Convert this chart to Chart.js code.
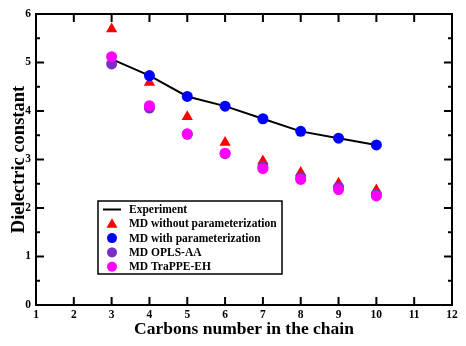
<!DOCTYPE html>
<html>
<head>
<meta charset="utf-8">
<script src="https://cdn.jsdelivr.net/npm/chart.js@4"></script>
<style>
  body { margin: 0; background: #fff; }
  #wrap { width: 466px; height: 346px; }
</style>
</head>
<body>
<div id="wrap"><canvas id="c"></canvas></div>
<script>
// carbons in the chain vs dielectric constant
const carbons = [3, 4, 5, 6, 7, 8, 9, 10];
const experiment = [5.07, 4.73, 4.30, 4.10, 3.84, 3.58, 3.44, 3.30];
const mdWithout = [5.69, 4.59, 3.88, 3.35, 2.97, 2.73, 2.51, 2.37];
const mdWith = [null, 4.73, 4.30, 4.10, 3.84, 3.58, 3.44, 3.30];
const mdOpls = [4.97, 4.06, 3.52, 3.12, 2.85, 2.63, 2.43, 2.28];
const mdTrappe = [5.12, 4.11, 3.53, 3.13, 2.81, 2.59, 2.38, 2.25];

const serif = "'Liberation Serif', 'Times New Roman', serif";

function pts(ys) {
  return carbons.map((c, i) => ({ x: c, y: ys[i] }));
}

// inward ticks on all four sides + frame
const framePlugin = {
  id: "frame",
  afterDraw(chart) {
    const ctx = chart.ctx;
    const a = chart.chartArea;
    const xs = chart.scales.x, ys = chart.scales.y;
    ctx.save();
    ctx.strokeStyle = "#000";
    ctx.lineWidth = 2;
    for (let v = 1; v <= 12; v++) {
      const px = xs.getPixelForValue(v);
      ctx.beginPath();
      ctx.moveTo(px, a.bottom); ctx.lineTo(px, a.bottom - 8);
      ctx.moveTo(px, a.top); ctx.lineTo(px, a.top + 8);
      ctx.stroke();
    }
    for (let v = 0; v <= 6; v += 0.5) {
      const py = ys.getPixelForValue(v);
      const len = Number.isInteger(v) ? 8 : 4;
      ctx.beginPath();
      ctx.moveTo(a.left, py); ctx.lineTo(a.left + len, py);
      ctx.moveTo(a.right, py); ctx.lineTo(a.right - len, py);
      ctx.stroke();
    }
    ctx.strokeRect(a.left, a.top, a.right - a.left, a.bottom - a.top);
    ctx.restore();
  }
};

// boxed legend inside the plot
const legendPlugin = {
  id: "boxLegend",
  afterDraw(chart) {
    const ctx = chart.ctx;
    const x0 = 98, y0 = 201, w = 184, h = 73;
    ctx.save();
    ctx.fillStyle = "#fff";
    ctx.fillRect(x0, y0, w, h);
    ctx.strokeStyle = "#000";
    ctx.lineWidth = 1.5;
    ctx.strokeRect(x0, y0, w, h);
    ctx.font = "bold 11.5px " + serif;
    ctx.textBaseline = "middle";
    chart.data.datasets.forEach((ds, i) => {
      const y = y0 + 8.5 + i * 14.3;
      const sx = 112;
      if (ds.showLine) {
        ctx.strokeStyle = ds.borderColor;
        ctx.lineWidth = 2;
        ctx.beginPath(); ctx.moveTo(103, y); ctx.lineTo(121, y); ctx.stroke();
      } else if (ds.pointStyle === "triangle") {
        ctx.fillStyle = ds.backgroundColor;
        ctx.beginPath();
        ctx.moveTo(sx, y - 5.5); ctx.lineTo(sx + 5.5, y + 4); ctx.lineTo(sx - 5.5, y + 4);
        ctx.closePath(); ctx.fill();
      } else {
        ctx.fillStyle = ds.backgroundColor;
        ctx.beginPath(); ctx.arc(sx, y, 5, 0, Math.PI * 2); ctx.fill();
      }
      ctx.fillStyle = "#000";
      ctx.fillText(ds.label, 129, y + 0.5);
    });
    ctx.restore();
  }
};

new Chart(document.getElementById("c"), {
  type: "scatter",
  data: {
    datasets: [
      {
        label: "Experiment",
        data: pts(experiment),
        showLine: true,
        borderColor: "#000",
        backgroundColor: "#000",
        borderWidth: 2,
        pointRadius: 0,
        order: 5
      },
      {
        label: "MD without parameterization",
        data: pts(mdWithout),
        pointStyle: "triangle",
        backgroundColor: "#ff0000",
        borderColor: "#ff0000",
        borderWidth: 0,
        pointRadius: 6.5,
        order: 4
      },
      {
        label: "MD with parameterization",
        data: pts(mdWith),
        backgroundColor: "#0000ff",
        borderColor: "#0000ff",
        borderWidth: 0,
        pointRadius: 5.5,
        order: 3
      },
      {
        label: "MD OPLS-AA",
        data: pts(mdOpls),
        backgroundColor: "#7b2fc4",
        borderColor: "#7b2fc4",
        borderWidth: 0,
        pointRadius: 5.5,
        order: 2
      },
      {
        label: "MD TraPPE-EH",
        data: pts(mdTrappe),
        backgroundColor: "#ff00ff",
        borderColor: "#ff00ff",
        borderWidth: 0,
        pointRadius: 5.5,
        order: 1
      }
    ]
  },
  options: {
    responsive: true,
    maintainAspectRatio: false,
    animation: false,
    layout: { padding: { left: 0, right: 14, top: 14, bottom: 0 } },
    plugins: {
      legend: { display: false },
      tooltip: { enabled: false }
    },
    scales: {
      x: {
        type: "linear",
        min: 1,
        max: 12,
        ticks: { stepSize: 1, color: "#000", font: { family: serif, size: 11.5, weight: "bold" }, padding: 3 },
        grid: { display: false, drawTicks: false },
        border: { display: false },
        title: {
          display: true,
          text: "Carbons number in the chain",
          color: "#000",
          font: { family: serif, size: 17.5, weight: "bold" },
          padding: { top: 0, bottom: 6 }
        },
        afterFit(s) { s.height = 41; }
      },
      y: {
        min: 0,
        max: 6,
        ticks: { stepSize: 1, color: "#000", font: { family: serif, size: 11.5, weight: "bold" }, padding: 5 },
        grid: { display: false, drawTicks: false },
        border: { display: false },
        title: {
          display: true,
          text: "Dielectric constant",
          color: "#000",
          font: { family: serif, size: 18.5, weight: "bold" },
          padding: { top: 8, bottom: 0 }
        },
        afterFit(s) { s.width = 36; }
      }
    }
  },
  plugins: [framePlugin, legendPlugin]
});
</script>
</body>
</html>
